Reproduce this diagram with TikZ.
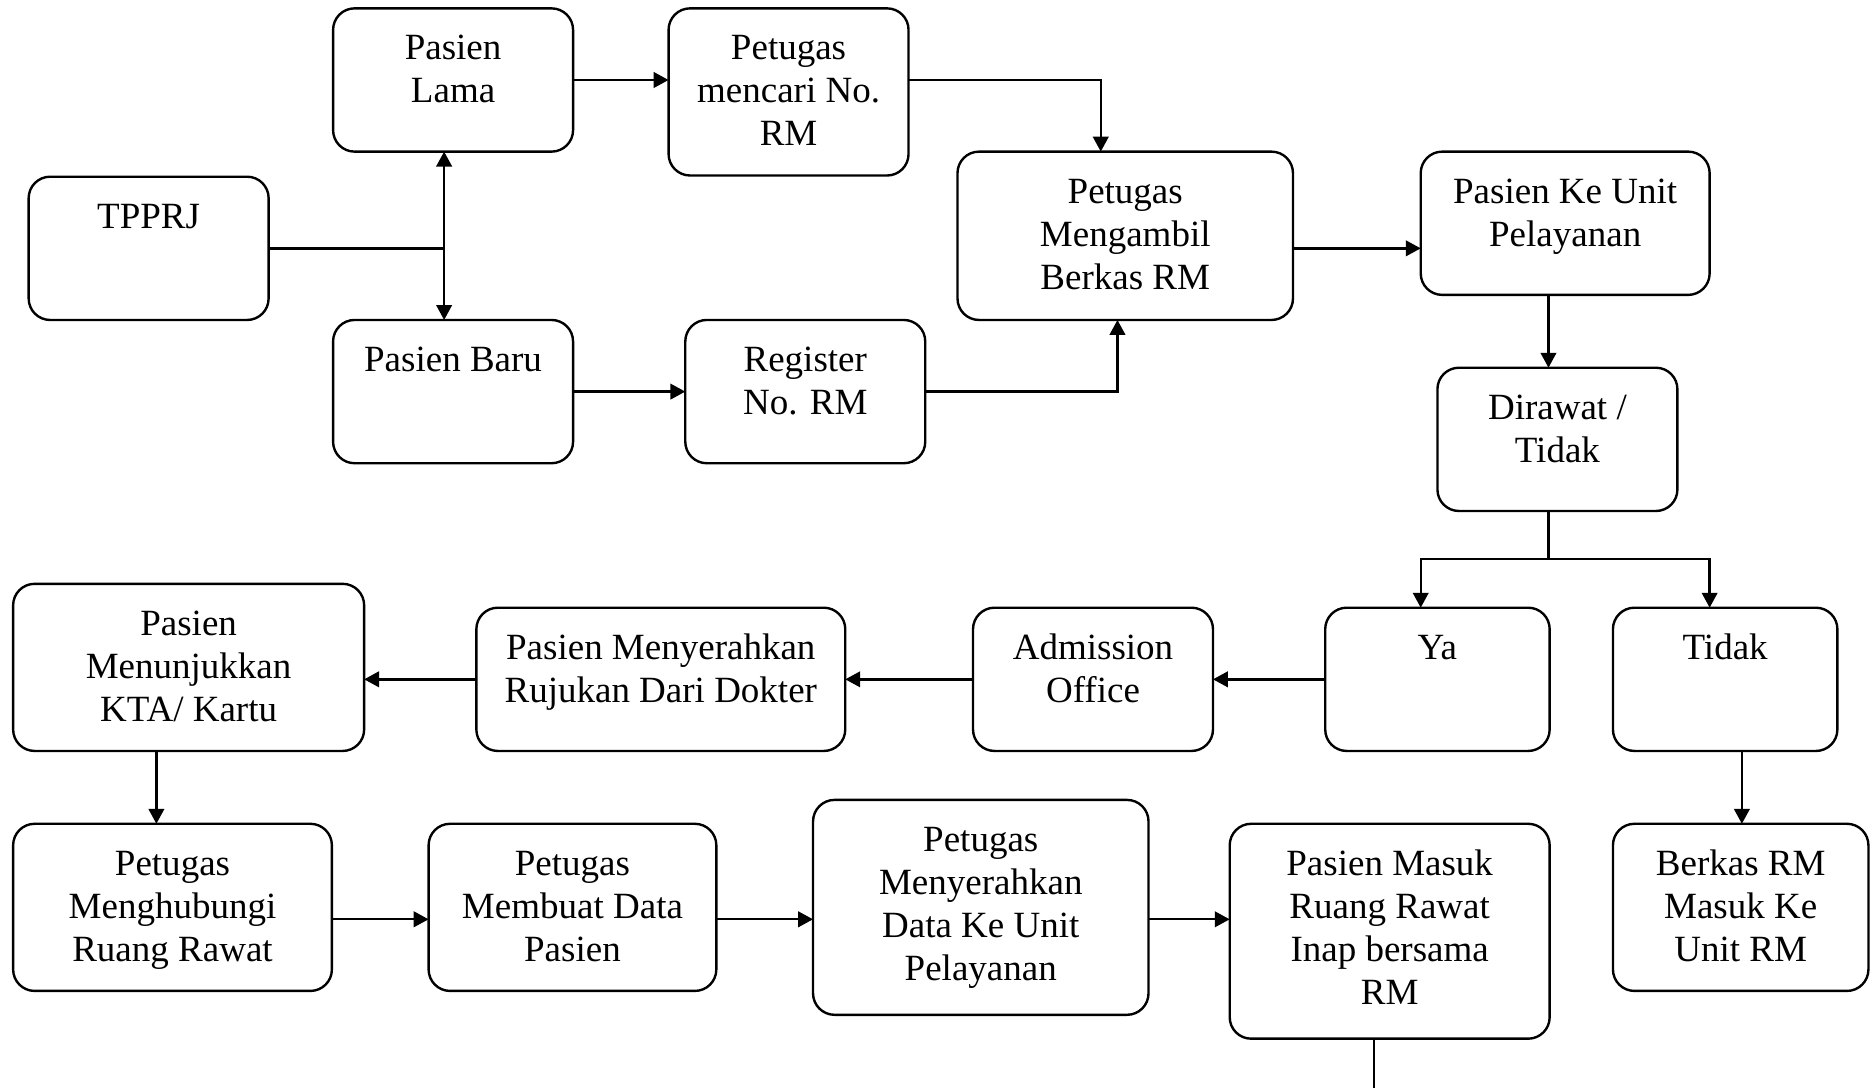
\documentclass[tikz,border=0pt]{standalone}
\usepackage{fontspec}
\setmainfont{Liberation Serif}
\usetikzlibrary{arrows.meta}
\newcommand\bxtext[3]{\parbox[c][#2pt][t]{#1pt}{\centering\vspace*{18pt}\strut #3}}
\tikzset{
  box/.style={draw, line width=2pt, rounded corners=18pt, inner sep=0pt, outer sep=0pt,
              font=\fontsize{31}{36}\selectfont},
  conn/.style={line width=2pt},
  arr/.style={conn, -{Triangle[length=12.5pt,width=13pt]}},
  arrboth/.style={conn, {Triangle[length=12.5pt,width=13pt]}-{Triangle[length=12.5pt,width=13pt]}}
}
\begin{document}
\begin{tikzpicture}[x=1pt,y=-1pt]
\useasboundingbox (0,0) rectangle (1568,911);
% boxes
\node[box] (tpprj)  at (124.5,208)  {\bxtext{201}{120}{TPPRJ}};
\node[box] (lama)   at (379.5,67)   {\bxtext{201}{120}{Pasien\\Lama}};
\node[box] (cari)   at (660.5,77)   {\bxtext{201}{140}{Petugas\\mencari No.\\RM}};
\node[box] (ambil)  at (942.5,197.5){\bxtext{281}{141}{Petugas\\Mengambil\\Berkas RM}};
\node[box] (unit)   at (1311,187)   {\bxtext{242}{120}{Pasien Ke Unit\\Pelayanan}};
\node[box] (baru)   at (379.5,328)  {\bxtext{201}{120}{Pasien Baru}};
\node[box] (reg)    at (674.5,328)  {\bxtext{201}{120}{Register\\No. RM}};
\node[box] (dirawat) at (1304.5,368){\bxtext{201}{120}{Dirawat /\\Tidak}};
\node[box] (ya)     at (1204,569)   {\bxtext{188}{120}{Ya}};
\node[box] (tidak)  at (1445,569)   {\bxtext{188}{120}{Tidak}};
\node[box] (adm)    at (915.5,569)  {\bxtext{201}{120}{Admission\\Office}};
\node[box] (rujuk)  at (553.5,569)  {\bxtext{309}{120}{Pasien Menyerahkan\\Rujukan Dari Dokter}};
\node[box] (kta)    at (158,559)    {\bxtext{294}{140}{Pasien\\Menunjukkan\\KTA/ Kartu}};
\node[box] (hub)    at (144.5,760)  {\bxtext{267}{140}{Petugas\\Menghubungi\\Ruang Rawat}};
\node[box] (buat)   at (479.5,760)  {\bxtext{241}{140}{Petugas\\Membuat Data\\Pasien}};
\node[box] (serah)  at (821.5,760)  {\bxtext{281}{180}{Petugas\\Menyerahkan\\Data Ke Unit\\Pelayanan}};
\node[box] (masuk)  at (1164,780)   {\bxtext{268}{180}{Pasien Masuk\\Ruang Rawat\\Inap bersama\\RM}};
\node[box] (berkas) at (1458,760)   {\bxtext{214}{140}{Berkas RM\\Masuk Ke\\Unit RM}};
% helper coordinates
\coordinate (j) at (372,208);
\coordinate (split) at (1297,468);
\coordinate (out) at (1151,911);
% connectors
\draw[conn] (tpprj.east) -- (j);
\draw[arrboth] ([xshift=-7.5pt]lama.south) -- ([xshift=-7.5pt]baru.north);
\draw[arr] (lama.east) -- (lama.east -| cari.west);
\draw[arr] (lama.east -| cari.east) -| ([xshift=-20.5pt]ambil.north);
\draw[arr] (baru.east) -- (baru.east -| reg.west);
\draw[arr] (reg.east) -| ([xshift=-6.5pt]ambil.south);
\draw[arr] ([yshift=-10.5pt]ambil.east) -- ([yshift=-10.5pt]ambil.east -| unit.west);
\draw[arr] ([xshift=-14pt]unit.south) -- ([xshift=-14pt]unit.south |- dirawat.north);
\draw[conn] (dirawat.south -| split) -- (split);
\draw[arr] (split) -| ([xshift=-14pt]ya.north);
\draw[arr] (split) -| ([xshift=-13pt]tidak.north);
\draw[arr] (ya.west) -- (adm.east);
\draw[arr] (adm.west) -- (rujuk.east);
\draw[arr] (rujuk.west) -- (rujuk.west -| kta.east);
\draw[arr] ([xshift=-27pt]kta.south) -- ([xshift=-27pt]kta.south |- hub.north);
\draw[arr] ([yshift=-10pt]hub.east) -- ([yshift=-10pt]hub.east -| buat.west);
\draw[arr] ([yshift=-10pt]buat.east) -- ([yshift=-10pt]buat.east -| serah.west);
\draw[arr] ([yshift=-10pt]serah.east) -- ([yshift=-10pt]serah.east -| masuk.west);
\draw[arr] ([xshift=14pt]tidak.south) -- ([xshift=14pt]tidak.south |- berkas.north);
\draw[conn] (out |- masuk.south) -- (out);
\end{tikzpicture}
\end{document}
